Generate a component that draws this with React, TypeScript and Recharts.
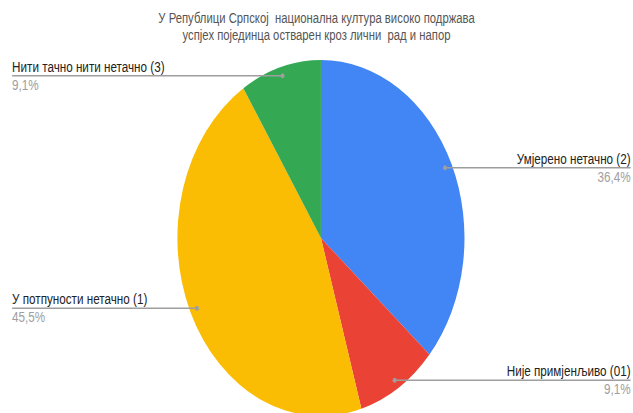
import { PieChart, Pie, Cell } from "recharts";

const categories = [
  "Умјерено нетачно (2)",
  "Није примјенљиво (01)",
  "У потпуности нетачно (1)",
  "Нити тачно нити нетачно (3)",
];
const counts = [4, 1, 5, 1];
const colors = ["#4285F4", "#EA4335", "#FBBC04", "#34A853"];
const titleLines = [
  "У Републици Српској  национална култура високо подржава",
  "успјех појединца остварен кроз лични  рад и напор",
];

const data = categories.map((name, i) => ({ name, value: counts[i] }));

// the reference is squeezed horizontally, so draw wide and scale down
const SX = 0.8064;
const W = 785;
const H = 413;
const LEFT = 15;
const RIGHT = 782;
const RAD = Math.PI / 180;

const renderLabel = (props: any) => {
  const { cx, cy, midAngle, outerRadius, percent, name } = props;
  const r = outerRadius * 0.95;
  const x = cx + r * Math.cos(-midAngle * RAD);
  const y = cy + r * Math.sin(-midAngle * RAD);
  const left = x < cx;
  const tx = left ? LEFT : RIGHT;
  const anchor = left ? "start" : "end";
  const pct = (percent * 100).toFixed(1).replace(".", ",") + "%";
  return (
    <g>
      <line x1={x} y1={y} x2={tx} y2={y} stroke="#9e9e9e" strokeWidth={1.3} />
      <circle cx={x} cy={y} r={2.5} fill="#9e9e9e" />
      <text x={tx} y={y - 4} textAnchor={anchor} fontSize={14.5} fill="#222">
        {name}
      </text>
      <text x={tx} y={y + 14} textAnchor={anchor} fontSize={14.5} fill="#9e9e9e">
        {pct}
      </text>
    </g>
  );
};

export default function App() {
  return (
    <div
      style={{
        position: "absolute",
        left: 0,
        top: 0,
        width: 633,
        height: 413,
        overflow: "hidden",
        background: "#fff",
        fontFamily: "'Liberation Sans', Arial, sans-serif",
      }}
    >
      <div
        style={{
          position: "relative",
          width: W,
          height: H,
          transform: `scaleX(${SX})`,
          transformOrigin: "0 0",
        }}
      >
        <div
          style={{
            position: "absolute",
            top: 10,
            left: 0,
            width: W,
            textAlign: "center",
            fontSize: 14,
            lineHeight: "17px",
            color: "#555",
            whiteSpace: "pre",
          }}
        >
          {titleLines.map((t) => (
            <div key={t}>{t}</div>
          ))}
        </div>
        <PieChart
          width={W}
          height={H}
          margin={{ top: 0, right: 0, bottom: 0, left: 0 }}
          style={{ fontFamily: "'Liberation Sans', Arial, sans-serif" }}
        >
          <Pie
            data={data}
            dataKey="value"
            nameKey="name"
            cx={398}
            cy={238}
            outerRadius={178}
            startAngle={90}
            endAngle={-270}
            stroke="none"
            label={renderLabel}
            labelLine={false}
            isAnimationActive={false}
          >
            {data.map((d, i) => (
              <Cell key={d.name} fill={colors[i]} />
            ))}
          </Pie>
        </PieChart>
      </div>
    </div>
  );
}
